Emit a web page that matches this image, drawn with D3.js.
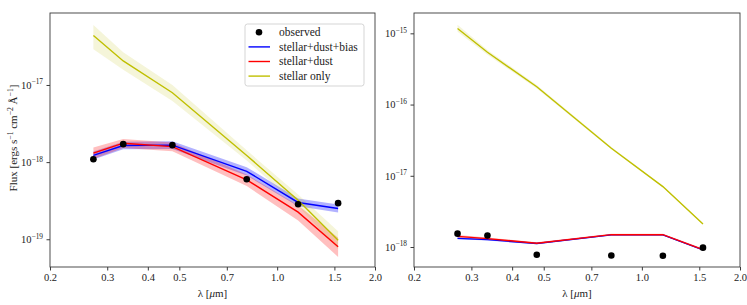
<!DOCTYPE html>
<html><head><meta charset="utf-8">
<script src="https://cdn.jsdelivr.net/npm/d3@7"></script>
<style>
body{margin:0;background:#fff}
svg text{font-family:'Liberation Serif','Times New Roman','DejaVu Serif','Noto Serif',serif !important;fill:#222}
</style>
</head><body>
<svg id="c" width="747" height="305"></svg>
<script>
// ---------- data ----------
const wavelengths = [0.272, 0.336, 0.476, 0.806, 1.16, 1.54];
const xTicks = [0.2, 0.3, 0.4, 0.5, 0.7, 1.0, 1.5, 2.0];
const xTickLabels = ["0.2", "0.3", "0.4", "0.5", "0.7", "1.0", "1.5", "2.0"];
const leftYExponents = [-17, -18, -19];
const rightYExponents = [-15, -16, -17, -18];
const seriesNames = ["observed", "stellar+dust+bias", "stellar+dust", "stellar only"];

// left panel
const leftObserved = [1.09e-18, 1.71e-18, 1.66e-18, 6.0e-19, 2.85e-19, 2.94e-19];
const leftBias = [1.22e-18, 1.64e-18, 1.66e-18, 7.6e-19, 3.0e-19, 2.5e-19];
const leftBiasLow = [1.08e-18, 1.47e-18, 1.48e-18, 6.7e-19, 2.68e-19, 2.22e-19];
const leftBiasHigh = [1.37e-18, 1.84e-18, 1.86e-18, 8.6e-19, 3.38e-19, 2.82e-19];
const leftDust = [1.31e-18, 1.76e-18, 1.59e-18, 5.9e-19, 2.25e-19, 8.0e-20];
const leftDustLow = [1.1e-18, 1.52e-18, 1.38e-18, 4.9e-19, 1.75e-19, 5.9e-20];
const leftDustHigh = [1.55e-18, 2.0e-18, 1.8e-18, 6.9e-19, 2.75e-19, 1.05e-19];
const leftStellar = [4.37e-17, 2.05e-17, 7.94e-18, 1.22e-18, 3.2e-19, 9.7e-20];
const leftStellarLow = [2.9e-17, 1.57e-17, 6.2e-18, 1.05e-18, 2.7e-19, 7.4e-20];
const leftStellarHigh = [6.0e-17, 2.65e-17, 1.0e-17, 1.42e-18, 3.8e-19, 1.27e-19];

// right panel
const rightObserved = [1.54e-18, 1.45e-18, 7.8e-19, 7.6e-19, 7.55e-19, 9.8e-19];
const rightBias = [1.32e-18, 1.27e-18, 1.12e-18, 1.48e-18, 1.48e-18, 9.1e-19];
const rightBiasLow = [1.28e-18, 1.23e-18, 1.09e-18, 1.45e-18, 1.45e-18, 8.9e-19];
const rightBiasHigh = [1.36e-18, 1.31e-18, 1.15e-18, 1.51e-18, 1.51e-18, 9.3e-19];
const rightDust = [1.41e-18, 1.31e-18, 1.13e-18, 1.49e-18, 1.49e-18, 9.2e-19];
const rightDustLow = [1.36e-18, 1.27e-18, 1.1e-18, 1.46e-18, 1.46e-18, 8.9e-19];
const rightDustHigh = [1.47e-18, 1.36e-18, 1.17e-18, 1.53e-18, 1.53e-18, 9.5e-19];
const rightStellar = [1.17e-15, 5.42e-16, 1.78e-16, 2.44e-17, 7.05e-18, 2.10e-18];
const rightStellarLow = [1.05e-15, 5.0e-16, 1.68e-16, 2.35e-17, 6.85e-18, 2.05e-18];
const rightStellarHigh = [1.32e-15, 5.85e-16, 1.88e-16, 2.53e-17, 7.25e-18, 2.15e-18];

// ---------- drawing ----------
const FONT = "'Liberation Serif','Times New Roman','DejaVu Serif','Noto Serif',serif";
const svg = d3.select("#c").attr("font-family", FONT);
const colors = {bias: "#0000ff", dust: "#ff0000", stellar: "#bfbf00", obs: "#000"};
const bandOpacity = {bias: 0.3, dust: 0.25, stellar: 0.15};

function sup(sel, base, exp, size) {
  sel.append("tspan").text(base);
  sel.append("tspan").attr("dy", -size * 0.42).attr("font-size", size * 0.7).text(exp);
}

function panel(cfg) {
  const g = svg.append("g");
  const x = d3.scaleLog().domain([0.2, 2.0]).range([cfg.x0, cfg.x1]);
  const y = d3.scaleLog().domain(cfg.ydom).range([cfg.y1, cfg.y0]);

  const area = (lo, hi) => d3.area()
    .x((d, i) => x(wavelengths[i]))
    .y0((d, i) => y(lo[i]))
    .y1((d, i) => y(hi[i]))(lo);
  const line = vals => d3.line().x((d, i) => x(wavelengths[i])).y(d => y(d))(vals);

  const series = [
    {k: "bias", v: cfg.bias, lo: cfg.biasLo, hi: cfg.biasHi},
    {k: "dust", v: cfg.dust, lo: cfg.dustLo, hi: cfg.dustHi},
    {k: "stellar", v: cfg.stellar, lo: cfg.stellarLo, hi: cfg.stellarHi}
  ];
  series.forEach(s => {
    g.append("path").attr("d", area(s.lo, s.hi))
      .attr("fill", colors[s.k]).attr("fill-opacity", bandOpacity[s.k]).attr("stroke", "none");
  });
  series.forEach(s => {
    g.append("path").attr("d", line(s.v))
      .attr("fill", "none").attr("stroke", colors[s.k]).attr("stroke-width", 1.4);
  });
  g.selectAll("circle.obs").data(cfg.obs).enter().append("circle")
    .attr("class", "obs")
    .attr("cx", (d, i) => x(wavelengths[i])).attr("cy", d => y(d)).attr("r", 3.3)
    .attr("fill", colors.obs);

  // frame
  g.append("rect").attr("x", cfg.x0).attr("y", cfg.y0)
    .attr("width", cfg.x1 - cfg.x0).attr("height", cfg.y1 - cfg.y0)
    .attr("fill", "none").attr("stroke", "#3a3a3a").attr("stroke-width", 0.9);

  // x axis
  const xa = d3.axisBottom(x).tickValues(xTicks)
    .tickFormat((d, i) => xTickLabels[i]).tickSize(3.5).tickPadding(3.5);
  const xg = g.append("g").attr("transform", `translate(0,${cfg.y1})`).call(xa);
  xg.attr("font-family", FONT).attr("font-size", 10.5);
  xg.select(".domain").remove();
  xg.selectAll("line").attr("stroke", "#3a3a3a");
  xg.selectAll("text").attr("fill", "#222");

  // y axis
  const yTickVals = cfg.exps.map(e => Math.pow(10, e));
  const ya = d3.axisLeft(y).tickValues(yTickVals).tickFormat("").tickSize(3.5);
  const yg = g.append("g").attr("transform", `translate(${cfg.x0},0)`).call(ya);
  yg.select(".domain").remove();
  yg.selectAll("line").attr("stroke", "#3a3a3a");
  cfg.exps.forEach(e => {
    const t = g.append("text").attr("x", cfg.x0 - 7).attr("y", y(Math.pow(10, e)) + 3.8)
      .attr("text-anchor", "end").attr("font-size", 10.5);
    sup(t, "10", "\u2212" + Math.abs(e), 10.5);
  });

  // x label
  const xl = g.append("text").attr("x", (cfg.x0 + cfg.x1) / 2).attr("y", cfg.y1 + 30)
    .attr("text-anchor", "middle").attr("font-size", 11);
  xl.append("tspan").text("\u03bb [");
  xl.append("tspan").attr("font-style", "italic").text("\u03bc");
  xl.append("tspan").text("m]");
  return {x, y, g};
}

panel({x0: 50, x1: 375, y0: 13, y1: 267, ydom: [4.37e-20, 8.57e-17], exps: leftYExponents,
  obs: leftObserved, bias: leftBias, biasLo: leftBiasLow, biasHi: leftBiasHigh,
  dust: leftDust, dustLo: leftDustLow, dustHi: leftDustHigh,
  stellar: leftStellar, stellarLo: leftStellarLow, stellarHi: leftStellarHigh});

panel({x0: 414, x1: 740, y0: 13, y1: 267, ydom: [5.24e-19, 1.93e-15], exps: rightYExponents,
  obs: rightObserved, bias: rightBias, biasLo: rightBiasLow, biasHi: rightBiasHigh,
  dust: rightDust, dustLo: rightDustLow, dustHi: rightDustHigh,
  stellar: rightStellar, stellarLo: rightStellarLow, stellarHi: rightStellarHigh});

// y label (left)
const yl = svg.append("text").attr("transform", "translate(16.5,138) rotate(-90)")
  .attr("text-anchor", "middle").attr("font-size", 11);
yl.append("tspan").text("Flux [ergs s");
yl.append("tspan").attr("dy", -4).attr("font-size", 7.7).text("\u22121");
yl.append("tspan").attr("dy", 4).text(" cm");
yl.append("tspan").attr("dy", -4).attr("font-size", 7.7).text("\u22122");
yl.append("tspan").attr("dy", 4).text(" \u00c5");
yl.append("tspan").attr("dy", -4).attr("font-size", 7.7).text("\u22121");
yl.append("tspan").attr("dy", 4).text("]");

// legend
const lg = svg.append("g");
lg.append("rect").attr("x", 245).attr("y", 24).attr("width", 119).attr("height", 62)
  .attr("rx", 2.5).attr("fill", "#fff").attr("fill-opacity", 0.85)
  .attr("stroke", "#d0d0d0").attr("stroke-width", 0.9);
const legendColors = [colors.obs, colors.bias, colors.dust, colors.stellar];
seriesNames.forEach((name, i) => {
  const cy = 32.3 + i * 14.6;
  if (i === 0) {
    lg.append("circle").attr("cx", 259).attr("cy", cy).attr("r", 3.3).attr("fill", colors.obs);
  } else {
    lg.append("line").attr("x1", 248.5).attr("x2", 270).attr("y1", cy).attr("y2", cy)
      .attr("stroke", legendColors[i]).attr("stroke-width", 1.4);
  }
  lg.append("text").attr("x", 279).attr("y", cy + 3.8).attr("font-size", 11.5).text(name);
});
</script>
</body></html>
